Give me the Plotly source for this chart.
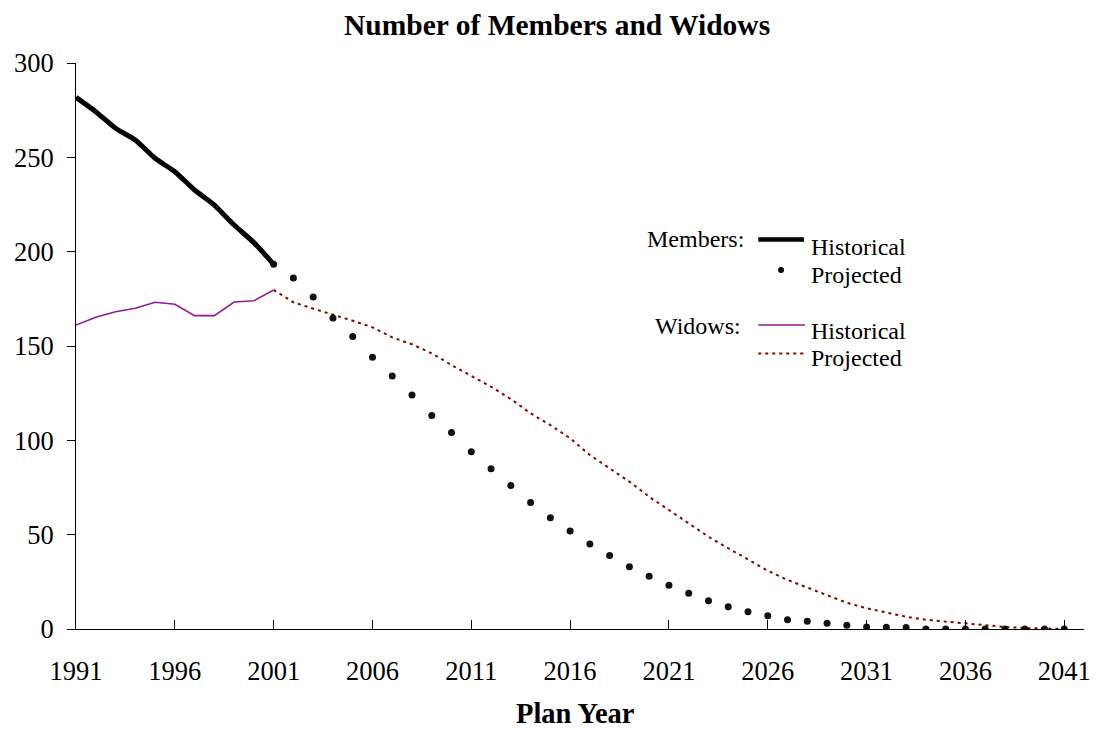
import plotly.graph_objects as go

years_hist = list(range(1991, 2002))
members_hist = [281.8, 274.2, 265.4, 259.2, 249.5, 242.4, 232.7, 224.7, 214.1, 204.8, 193.3]
widows_hist = [161.1, 165.2, 168.2, 170.0, 173.2, 172.1, 166.1, 166.1, 173.3, 174.0, 179.7]

years_proj = list(range(2001, 2042))
members_proj = [193.3, 186.0, 176.0, 164.8, 155.1, 144.0, 134.1, 124.0, 113.1, 104.1,
                94.0, 85.0, 76.0, 67.1, 59.0, 51.9, 45.0, 39.0, 33.0, 27.9,
                23.2, 18.9, 15.0, 11.8, 9.2, 7.0, 4.9, 4.1, 3.0, 2.0,
                1.0, 0.9, 0.8, 0.0, 0.0, 0.0, 0.0, 0.0, 0.0, 0.0, 0.0]
widows_proj = [179.7, 173.2, 169.8, 166.8, 163.4, 159.9, 154.6, 150.9, 146.1, 139.9,
               134.1, 128.4, 121.9, 114.3, 108.1, 101.1, 92.2, 85.2, 78.1, 70.1,
               63.1, 56.0, 48.9, 42.8, 36.9, 30.9, 26.0, 22.1, 18.0, 13.9,
               11.0, 8.7, 6.5, 4.9, 3.9, 3.0, 2.0, 1.1, 0.5, 0.4, 0.0]

x_ticks = [1991, 1996, 2001, 2006, 2011, 2016, 2021, 2026, 2031, 2036, 2041]
y_ticks = [0, 50, 100, 150, 200, 250, 300]

FONT = "Liberation Serif, Times New Roman, serif"
PURPLE = "#941a94"
DARKRED = "#8b0000"
TICK_SIZE = 26.5

fig = go.Figure()
fig.add_trace(go.Scatter(x=years_proj, y=widows_proj, mode="lines",
                         line=dict(color=DARKRED, width=2, dash="3px,4px"), showlegend=False))
fig.add_trace(go.Scatter(x=years_hist, y=widows_hist, mode="lines",
                         line=dict(color=PURPLE, width=1.6), showlegend=False))
fig.add_trace(go.Scatter(x=years_hist, y=members_hist, mode="lines",
                         line=dict(color="black", width=5, shape="spline", smoothing=0.6), showlegend=False))
fig.add_trace(go.Scatter(x=years_proj, y=members_proj, mode="markers",
                         marker=dict(color="#111111", size=7), showlegend=False))

W, H = 1099, 731
L, R, T, B = 76, 8, 63, 102
PW, PH = W - L - R, H - T - B


def px(x):
    return (x - L) / PW


def py(y):
    return (H - B - y) / PH


annotations = []
shapes = []


def text(x, y, s, anchor="left", size=24, bold=False, yanchor="middle"):
    annotations.append(dict(x=px(x), y=py(y), xref="paper", yref="paper", text=("<b>%s</b>" % s) if bold else s,
                            showarrow=False, xanchor=anchor, yanchor=yanchor, borderpad=0,
                            font=dict(family=FONT, size=size, color="black")))


# Legend
text(750, 239, "Members:", anchor="right")
shapes.append(dict(type="line", xref="paper", yref="paper", x0=px(763), x1=px(809), y0=py(239.5), y1=py(239.5),
                   line=dict(color="black", width=4.5)))
text(815, 247, "Historical")
shapes.append(dict(type="circle", xref="paper", yref="paper", x0=px(783), x1=px(789), y0=py(267), y1=py(273),
                   fillcolor="black", line=dict(color="black", width=0)))
text(815, 275, "Projected")

text(747, 326, "Widows:", anchor="right")
shapes.append(dict(type="line", xref="paper", yref="paper", x0=px(763), x1=px(810), y0=py(325), y1=py(325),
                   line=dict(color=PURPLE, width=1.6)))
text(815, 331, "Historical")
shapes.append(dict(type="line", xref="paper", yref="paper", x0=px(763), x1=px(810), y0=py(353.5), y1=py(353.5),
                   line=dict(color=DARKRED, width=2, dash="3px,4px")))
text(815, 358, "Projected")

# Title and axis title
text(560, 25, "Number of Members and Widows", anchor="center", size=29.5, bold=True)
text(579, 730, "Plan Year", anchor="center", size=28.5, bold=True, yanchor="bottom")

fig.update_layout(
    width=W, height=H,
    margin=dict(l=L, r=R, t=T, b=B, pad=0),
    paper_bgcolor="white", plot_bgcolor="white",
    font=dict(family=FONT, size=TICK_SIZE, color="black"),
    annotations=annotations, shapes=shapes,
    showlegend=False,
)
fig.update_xaxes(range=[1991, 2042], tickvals=x_ticks, ticktext=[str(v) for v in x_ticks],
                 ticks="inside", ticklen=9, tickcolor="black", tickwidth=1,
                 showline=True, linecolor="black", linewidth=1, showgrid=False, zeroline=False,
                 ticklabelstandoff=18, tickfont=dict(family=FONT, size=TICK_SIZE, color="black"))
fig.update_yaxes(range=[0, 300], tickvals=y_ticks, ticktext=[str(v) for v in y_ticks],
                 ticks="outside", ticklen=8, tickcolor="black", tickwidth=1,
                 showline=True, linecolor="black", linewidth=1, showgrid=False, zeroline=False,
                 ticklabelstandoff=8, tickfont=dict(family=FONT, size=TICK_SIZE, color="black"))

fig.write_html("out.html")
